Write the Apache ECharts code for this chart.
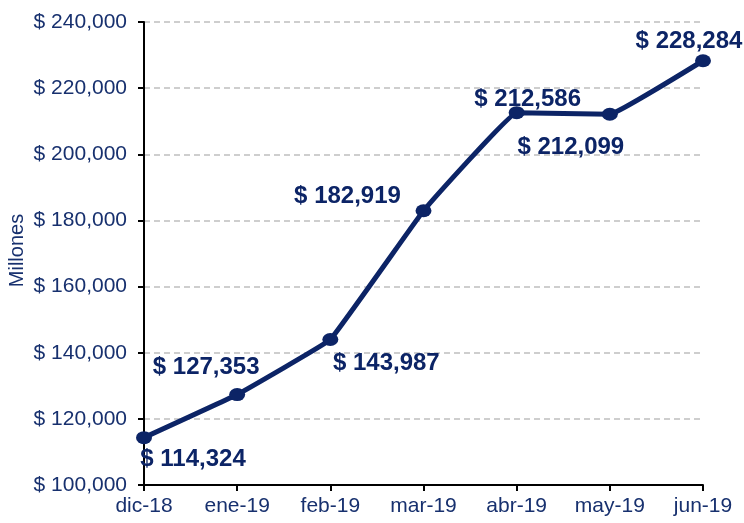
<!DOCTYPE html>
<html>
<head>
<meta charset="utf-8">
<script src="https://cdn.jsdelivr.net/npm/echarts@6/dist/echarts.min.js"></script>
<style>
html,body{margin:0;padding:0;background:#fff;}
#chart{width:744px;height:523px;}
</style>
</head>
<body>
<div id="chart"></div>
<script>
const categories = ['dic-18','ene-19','feb-19','mar-19','abr-19','may-19','jun-19'];
const values = [114324, 127353, 143987, 182919, 212586, 212099, 228284];
const yTicks = [100000, 120000, 140000, 160000, 180000, 200000, 220000, 240000];
const labelOffsets = [[49,22],[-31,-27],[56,24],[-76,-14],[11,-13],[-39,33],[-14,-19]];

function fmt(v){ return '$ ' + v.toString().replace(/\B(?=(\d{3})+(?!\d))/g, ','); }

const navy = '#0c2466';
const textNavy = '#17306e';

const chart = echarts.init(document.getElementById('chart'), null, {renderer:'canvas'});
chart.setOption({
  animation: false,
  backgroundColor: '#ffffff',
  grid: {left:144, right:41, top:22, bottom:38, containLabel:false, outerBoundsMode:'none'},
  xAxis: {
    type: 'category',
    data: categories,
    boundaryGap: false,
    axisLine: {show:true, lineStyle:{color:'#000', width:2}},
    axisTick: {show:true, inside:false, length:6, lineStyle:{color:'#000', width:2}},
    axisLabel: {color:textNavy, fontFamily:'Liberation Sans', fontSize:21, margin:11},
    splitLine: {show:false}
  },
  yAxis: {
    type: 'value',
    min: yTicks[0],
    max: yTicks[yTicks.length-1],
    interval: 20000,
    name: 'Millones',
    nameLocation: 'middle',
    nameRotate: 90,
    nameGap: 117,
    nameMoveOverlap: false,
    nameTextStyle: {color:textNavy, fontFamily:'Liberation Sans', fontSize:20, padding:[0,0,0,6]},
    axisLine: {show:true, lineStyle:{color:'#000', width:2}},
    axisTick: {show:true, inside:false, length:6, lineStyle:{color:'#000', width:2}},
    axisLabel: {color:textNavy, fontFamily:'Liberation Sans', fontSize:21, margin:17, formatter: v => fmt(v)},
    splitLine: {show:true, lineStyle:{color:'#bfbfbf', type:[6,4], width:1.5}}
  },
  series: [{
    type: 'line',
    data: values.map((v,i)=>({value:v, label:{offset:labelOffsets[i]}})),
    smooth: 0.06,
    symbol: 'circle',
    symbolSize: [16,13],
    lineStyle: {color:navy, width:5},
    itemStyle: {color:navy},
    label: {
      show: true,
      position: 'inside',
      color: navy,
      fontFamily: 'Liberation Sans',
      fontWeight: 'bold',
      fontSize: 24,
      formatter: p => fmt(p.value)
    },
    z: 3
  }]
});
</script>
</body>
</html>
